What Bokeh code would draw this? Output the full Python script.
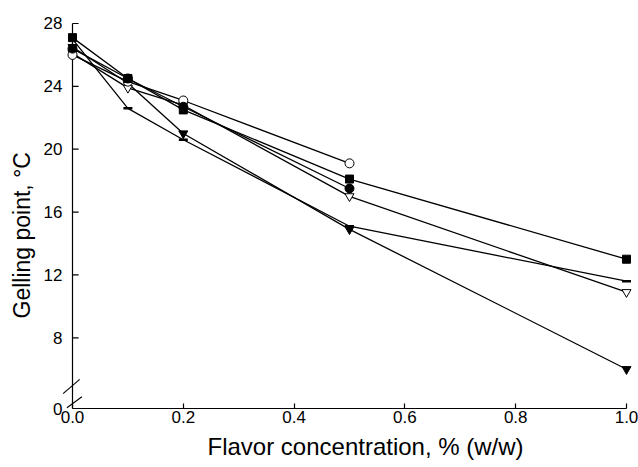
from bokeh.plotting import figure
from bokeh.models import Range1d, FixedTicker, PrintfTickFormatter, Title
from bokeh.embed import file_html
from bokeh.resources import INLINE

# ---- data ----
conc = [0.0, 0.1, 0.2, 0.5, 1.0]
conc_short = [0.0, 0.1, 0.2, 0.5]
filled_square = [27.1, 24.5, 22.5, 18.1, 13.0]
filled_circle = [26.4, 24.5, 22.7, 17.5]
open_circle = [26.0, 24.3, 23.1, 19.1]
open_triangle = [26.1, 23.9, 22.8, 17.0, 10.9]
filled_triangle = [26.5, 24.2, 21.0, 14.9, 6.0]
dash_series = [27.0, 22.6, 20.6, 15.1, 11.6]

x_ticks = [0.0, 0.2, 0.4, 0.6, 0.8, 1.0]
y_ticks = [3.5, 8, 12, 16, 20, 24, 28]
y_break_label = {3.5: "0"}
Y_BOTTOM, Y_TOP = 3.5, 28.0
x_title = "Flavor concentration, % (w/w)"
y_title = "Gelling point, \u00b0C"

FONT = "Liberation Sans"
TICK_LEN = 0.011  # in x data units (about 6 px)

p = figure(width=638, height=467, output_backend="svg", toolbar_location=None,
           x_range=Range1d(-0.01805, 1.01264), y_range=Range1d(Y_BOTTOM, 28.317),
           min_border_left=62, min_border_right=5, min_border_top=18, min_border_bottom=59)
p.outline_line_color = None
p.grid.visible = False
p.background_fill_color = "white"

series = [
    (conc, dash_series, "dash", "black", 2.5, 9),
    (conc, filled_triangle, "inverted_triangle", "black", 1.0, 9),
    (conc, open_triangle, "inverted_triangle", "white", 1.0, 9),
    (conc_short, open_circle, "circle", "white", 1.0, 9),
    (conc_short, filled_circle, "circle", "black", 1.0, 9),
    (conc, filled_square, "square", "black", 1.0, 8),
]

# y axis line at x = 0 with inward ticks
p.segment(x0=[0.0], y0=[Y_BOTTOM], x1=[0.0], y1=[Y_TOP], line_color="black", line_width=1.2)
p.segment(x0=[0.0] * len(y_ticks), y0=y_ticks, x1=[TICK_LEN] * len(y_ticks), y1=y_ticks,
          line_color="black", line_width=1.2)

for xs, ys, *_ in series:
    p.line(xs, ys, line_color="black", line_width=1.3)
for xs, ys, marker, fill, lw, size in series:
    p.scatter(xs, ys, marker=marker, size=size, fill_color=fill,
              line_color="black", line_width=lw)

# axis break marks
p.segment(x0=[-0.017, -0.010], y0=[4.45, 3.55], x1=[0.013, 0.017], y1=[5.35, 4.25],
          line_color="black", line_width=1.1)

for ax in (p.xaxis[0], p.yaxis[0]):
    ax.axis_line_color = "black"
    ax.axis_line_width = 1.2
    ax.major_tick_line_color = "black"
    ax.major_tick_line_width = 1.2
    ax.major_tick_in = 5
    ax.major_tick_out = 0
    ax.minor_tick_line_color = None
    ax.major_label_text_font = FONT
    ax.major_label_text_font_size = "17px"
    ax.major_label_text_color = "black"

p.xaxis[0].ticker = FixedTicker(ticks=x_ticks)
p.xaxis[0].formatter = PrintfTickFormatter(format="%.1f")
p.xaxis[0].bounds = (0.0, 1.0)
p.xaxis[0].major_label_standoff = 2

p.yaxis[0].ticker = FixedTicker(ticks=y_ticks)
p.yaxis[0].major_label_overrides = y_break_label
p.yaxis[0].axis_line_color = None
p.yaxis[0].major_tick_line_color = None
p.yaxis[0].major_label_standoff = 0

# axis titles: the reference does not centre them on the axes
p.add_layout(Title(text=x_title, align="left", offset=145, standoff=11, vertical_align="bottom",
                   text_font=FONT, text_font_size="24px", text_font_style="normal",
                   text_color="black"), "below")
p.add_layout(Title(text=y_title, align="left", offset=90, standoff=12, vertical_align="bottom",
                   text_font=FONT, text_font_size="23px", text_font_style="normal",
                   text_color="black"), "left")

open("out.html", "w").write(file_html(p, INLINE))
